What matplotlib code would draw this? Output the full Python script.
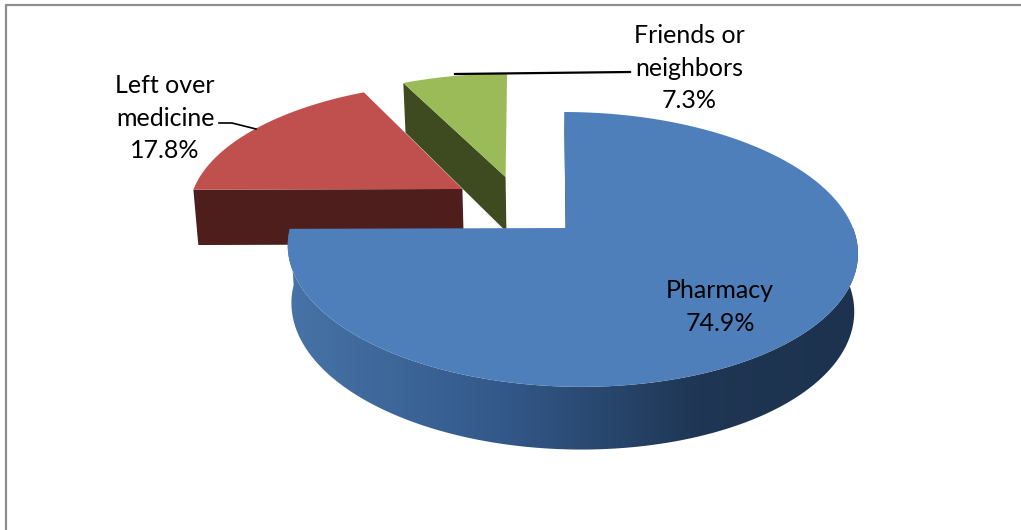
#!/usr/bin/env python3
import matplotlib
matplotlib.use("Agg")
import matplotlib.pyplot as plt
from matplotlib.colors import LinearSegmentedColormap
from matplotlib.patches import Polygon
import numpy as np

LABELS = ["Pharmacy", "Left over\nmedicine", "Friends or\nneighbors"]
VALUES = [74.9, 17.8, 7.3]
TOP_COLORS = ["#4e7fbb", "#c0504d", "#9bbb59"]
SIDE_COLORS = ["#2f5583", "#4d1e1c", "#3e4b20"]

# pixel layout of the fake 3D pie
CX, APEX_Y = 571.5, 228
A, B, C = 281.5, -98.5, 0.156
LEAN = -0.03
DEPTH = 57
SHRINK = 0.987


def project(u, v):
    w = 1 + C * v
    return CX + A * u / w, (B * v + APEX_Y) / w


def lower(u, v):
    x, y = project(u, v)
    return CX + (x - CX) * SHRINK, y + DEPTH * (1 - 0.1 * v)


def rim(center, start, stop):
    t = np.radians(np.linspace(start, stop, 240))
    return center[0] + np.cos(t) + LEAN * np.sin(t), center[1] + np.sin(t)


# slice angles, clockwise from 12 o'clock
stops = 90 - np.cumsum(VALUES) * 3.6
starts = np.r_[90, stops[:-1]]

fig = plt.figure(figsize=(10.21, 5.30), dpi=100)
ax = fig.add_axes([0, 0, 1, 1])

# chart frame, open at the bottom
ax.plot([6, 6, 1021], [530, 4.5, 4.5], color="#8c8c8c", lw=1.6, zorder=1)

# exploded slices: red, then green (blue goes on top of both)
for i, offset in [(1, (-0.406, 0.305)), (2, (-0.249, 0.404))]:
    u, v = rim(offset, starts[i], stops[i])
    # the cut face seen from the front is the one at the slice's first angle
    ends = [offset, (u[0], v[0])]
    side = [project(*p) for p in ends] + [lower(*p) for p in ends[::-1]]
    ax.add_patch(Polygon(side, fc=SIDE_COLORS[i], ec="none", zorder=2 + i))
    x, y = project(u, v)
    top = [project(*offset)] + list(zip(x, y))
    ax.add_patch(Polygon(top, fc=TOP_COLORS[i], ec="none", zorder=2 + i))

# blue wall with a left-to-right shade
u, v = rim((0, 0), 180, 360)
wall = list(zip(*project(u, v))) + list(zip(*lower(u, v)))[::-1]
wall_patch = Polygon(wall, fc="none", ec="none")
ax.add_patch(wall_patch)
shade = LinearSegmentedColormap.from_list(
    "wall", [(0, "#4773a8"), (0.37, "#33598a"), (0.72, "#1f3654"), (1, "#1c324e")])
im = ax.imshow(np.linspace(0, 1, 400)[None, :], cmap=shade, aspect="auto",
               extent=(287, 860, 460, 220), zorder=5)
im.set_clip_path(wall_patch)

# thin inner sliver right of the notch
apex = project(-0.021, 0)
u, v = rim((0, 0), starts[0], stops[0])
x, y = project(u, v)
ax.add_patch(Polygon([(x[0], y[0]), (apex[0] + 4, apex[1]), apex],
                     fc="#1f3654", ec="none", zorder=5))
ax.add_patch(Polygon([apex] + list(zip(x, y)), fc=TOP_COLORS[0], ec="none", zorder=6))

# leader lines
ax.plot([219, 232, 256], [123, 123, 129], color="black", lw=1.2, zorder=7)
ax.plot([455, 630], [74, 72], color="black", lw=1.6, zorder=7)

text_xy = [(720, 307), (165, 118), (689, 68)]
for lab, val, (tx, ty) in zip(LABELS, VALUES, text_xy):
    ax.text(tx, ty, f"{lab}\n{val}%", ha="center", va="center", fontsize=18,
            family="Lato", color="black", linespacing=1.48, zorder=8)

ax.set_xlim(0, 1021)
ax.set_ylim(530, 0)
ax.axis("off")
fig.savefig("out.png", dpi=100, facecolor="white")
